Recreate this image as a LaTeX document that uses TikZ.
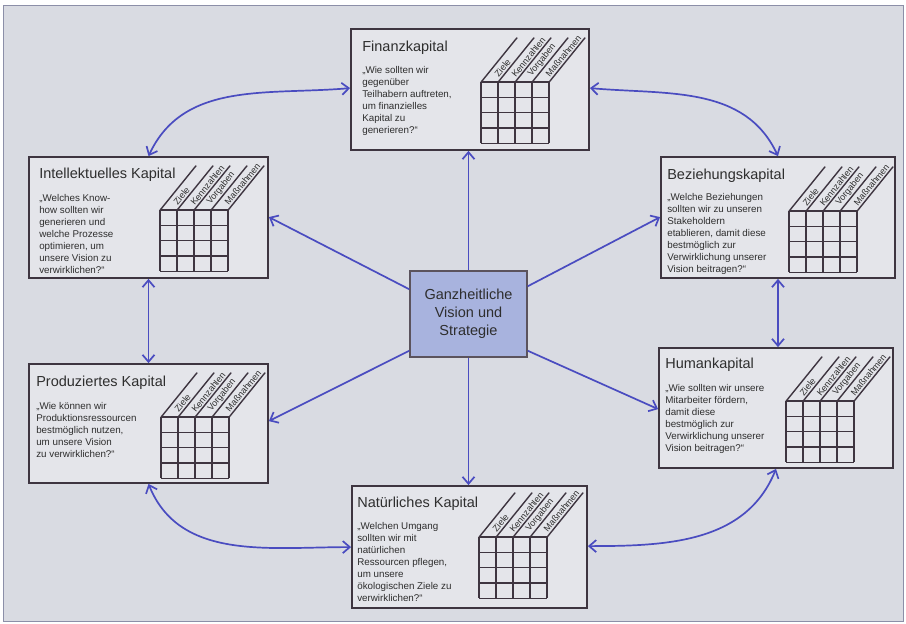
\documentclass[tikz,border=0pt]{standalone}
\usepackage{fontspec}
\setmainfont{Liberation Sans}
\usetikzlibrary{arrows.meta,calc}

\definecolor{pagebg}{HTML}{D9DBE2}
\definecolor{pageframe}{HTML}{8C8FA8}
\definecolor{boxbg}{HTML}{E4E5EA}
\definecolor{boxline}{HTML}{3E3540}
\definecolor{arrowblue}{HTML}{4A4CC0}
\definecolor{centerfill}{HTML}{A8B3DE}
\definecolor{inktext}{HTML}{2E2E2E}

\tikzset{
  kbox/.style={draw=boxline, fill=boxbg, line width=1.8pt, inner sep=0pt},
  hubbox/.style={draw=boxline!85, fill=centerfill, line width=1.5pt, inner sep=0pt,
    minimum width=117pt, minimum height=86pt, align=center,
    font=\fontsize{14.5}{18}\selectfont, text=inktext},
  link/.style={draw=arrowblue, line width=1.7pt, -{Straight Barb[length=7pt,width=12pt]}},
  duallink/.style={draw=arrowblue, line width=1.7pt,
    {Straight Barb[length=7pt,width=12pt]}-{Straight Barb[length=7pt,width=12pt]}},
  gridline/.style={draw=boxline, line width=1.4pt},
  headlabel/.style={rotate=51, anchor=south west, inner sep=1.8pt,
    font=\fontsize{9}{10}\selectfont, text=inktext},
  titletext/.style={anchor=base west, inner sep=0pt, font=\fontsize{14.5}{17}\selectfont, text=inktext},
  asktext/.style={anchor=base west, inner sep=0pt, text=inktext},
}

% question text, first baseline is the node's baseline
\newcommand\askbox[1]{\parbox[t]{140pt}{\fontsize{9.8}{12}\selectfont\raggedright #1}}

% 4x4 matrix with slanted column heads, placed relative to a box's top left corner
\newcommand\matrixgrid[3]{%
  \begin{scope}[shift={([xshift=#2pt,yshift=-#3pt]#1.north west)}]
    \foreach \i in {0,...,4} {
      \draw[gridline] (17*\i,0) -- (17*\i,-61.2);
      \draw[gridline] (0,-15.3*\i) -- (68,-15.3*\i);
      \draw[gridline, line cap=round] (17*\i,0) -- ++(51:57);
    }
    \foreach \lbl [count=\k] in {Ziele,Kennzahlen,Vorgaben,Maßnahmen}
      \node[headlabel] at ($(17*\k,0)+(51:2)$) {\lbl};
  \end{scope}}

% title and question of one capital box
\newcommand\boxtexts[6]{%
  \node[titletext] (#1-title) at ([xshift=#2pt,yshift=-#3pt]#1.north west) {#5};
  \node[asktext] (#1-ask) at ([xshift=#2pt,yshift=-#4pt]#1.north west) {\askbox{#6}};}

\begin{document}
\begin{tikzpicture}[x=1pt,y=1pt]
  \useasboundingbox (0,0) rectangle (906,-624);
  \fill[white] (0,0) rectangle (906,-624);
  \filldraw[fill=pagebg, draw=pageframe, line width=1pt] (3,-5) rectangle (903,-621);

  % capital boxes
  \node[kbox, minimum width=238pt, minimum height=121pt] (fin) at (470,-89.5) {};
  \node[kbox, minimum width=239pt, minimum height=121pt] (int) at (148.5,-217.5) {};
  \node[kbox, minimum width=234pt, minimum height=121pt] (bez) at (778,-217.5) {};
  \node[kbox, minimum width=239pt, minimum height=119pt] (pro) at (148.5,-423.5) {};
  \node[kbox, minimum width=234pt, minimum height=120pt] (hum) at (776,-408) {};
  \node[kbox, minimum width=235pt, minimum height=122pt] (nat) at (469.5,-547) {};

  % central box
  \node[hubbox] (hub) at (468.5,-314) {Ganzheitliche\\Vision und\\Strategie};

  % texts
  \boxtexts{fin}{12}{23}{45}{Finanzkapital}
    {„Wie sollten wir\\gegenüber\\Teilhabern auftreten,\\um finanzielles\\Kapital zu\\generieren?“}
  \boxtexts{int}{11}{22}{45}{Intellektuelles Kapital}
    {„Welches Know-\\how sollten wir\\generieren und\\welche Prozesse\\optimieren, um\\unsere Vision zu\\verwirklichen?“}
  \boxtexts{bez}{7}{23}{44}{Beziehungskapital}
    {„Welche Beziehungen\\sollten wir zu unseren\\Stakeholdern\\etablieren, damit diese\\bestmöglich zur\\Verwirklichung unserer\\Vision beitragen?“}
  \boxtexts{pro}{8}{23}{46}{Produziertes Kapital}
    {„Wie können wir\\Produktionsressourcen\\bestmöglich nutzen,\\um unsere Vision\\zu verwirklichen?“}
  \boxtexts{hum}{7}{21}{44}{Humankapital}
    {„Wie sollten wir unsere\\Mitarbeiter fördern,\\damit diese\\bestmöglich zur\\Verwirklichung unserer\\Vision beitragen?“}
  \boxtexts{nat}{6}{22}{44}{Natürliches Kapital}
    {„Welchen Umgang\\sollten wir mit\\natürlichen\\Ressourcen pflegen,\\um unsere\\ökologischen Ziele zu\\verwirklichen?“}

  % matrices
  \matrixgrid{fin}{131}{54}
  \matrixgrid{int}{132}{54}
  \matrixgrid{bez}{129}{55}
  \matrixgrid{pro}{133}{54}
  \matrixgrid{hum}{128}{54}
  \matrixgrid{nat}{128}{52}

  % links from the centre
  \draw[link] (hub.north) -- (hub.north |- fin.south);
  \draw[link] (hub.south) -- (hub.south |- nat.north);
  \draw[link] ([yshift=-19pt]hub.north west) -- ([yshift=-61pt]int.north east);
  \draw[link] ([yshift=-16pt]hub.north east) -- ([yshift=-61pt]bez.north west);
  \draw[link] ([yshift=7pt]hub.south west) -- ([yshift=-58pt]pro.north east);
  \draw[link] ([yshift=7pt]hub.south east) -- ([yshift=-62pt]hum.north west);

  % links between neighbouring capitals
  \draw[duallink] ([yshift=-60pt]fin.north west) to[out=185,in=65] (int.north);
  \draw[duallink] ([yshift=-60pt]fin.north east) to[out=-5,in=115] (bez.north);
  \draw[duallink] (int.south) -- (pro.north);
  \draw[duallink] (bez.south) -- (bez.south |- hum.north);
  \draw[duallink] (pro.south) to[out=-68,in=180] ([yshift=-62pt]nat.north west);
  \draw[duallink] (hum.south) to[out=-112,in=0] ([yshift=-61pt]nat.north east);
\end{tikzpicture}
\end{document}
